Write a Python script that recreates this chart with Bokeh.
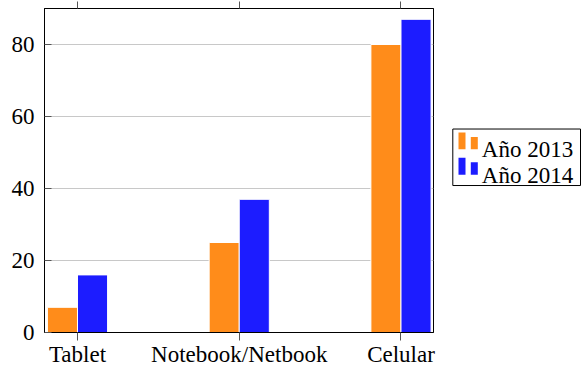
from bokeh.plotting import figure
from bokeh.models import Range1d, FixedTicker, LinearAxis
from bokeh.layouts import row
from bokeh.embed import file_html
from bokeh.resources import INLINE
from bokeh.core.properties import value

# ---- data ----
categories = ["Tablet", "Notebook/Netbook", "Celular"]
series_names = ["Año 2013", "Año 2014"]
values_2013 = [7, 25, 80]
values_2014 = [16, 37, 87]
y_ticks = [0, 20, 40, 60, 80]

FONT = "Liberation Serif"
FSIZE = "23px"
ORANGE = "#FF8C1A"
BLUE = "#1C1CFF"

xs = list(range(len(categories)))
bw = 0.186
off = 0.093

p = figure(width=443, height=371,
           x_range=Range1d(-0.204, 2.201), y_range=Range1d(0, 90),
           output_backend="svg", toolbar_location=None,
           min_border_left=44, min_border_right=10,
           min_border_top=8, min_border_bottom=39)

p.vbar(x=[x - off for x in xs], top=values_2013, width=bw, bottom=0,
       fill_color=ORANGE, line_color="white", line_width=1)
p.vbar(x=[x + off for x in xs], top=values_2014, width=bw, bottom=0,
       fill_color=BLUE, line_color="white", line_width=1)

xa = p.xaxis[0]
xa.ticker = FixedTicker(ticks=xs)
xa.major_label_overrides = {i: c for i, c in zip(xs, categories)}
xa.major_tick_out = 8
xa.major_tick_in = 0
xa.minor_tick_out = 0
xa.minor_tick_in = 0
xa.major_label_standoff = 1
xa.major_label_text_font = FONT
xa.major_label_text_font_size = FSIZE
xa.major_label_text_color = "black"
xa.axis_line_color = "black"
xa.major_tick_line_color = "#555555"

top_axis = LinearAxis(ticker=FixedTicker(ticks=xs),
                      major_label_overrides={i: "" for i in xs},
                      major_tick_out=7, major_tick_in=0,
                      minor_tick_out=0, minor_tick_in=0,
                      major_label_text_font_size="1px",
                      major_label_standoff=0,
                      axis_line_color="black",
                      major_tick_line_color="#555555")
p.add_layout(top_axis, "above")

ya = p.yaxis[0]
ya.ticker = FixedTicker(ticks=y_ticks)
ya.major_tick_in = 7
ya.major_tick_out = 0
ya.minor_tick_out = 0
ya.minor_tick_in = 0
ya.major_label_standoff = 10
ya.major_label_text_font = FONT
ya.major_label_text_font_size = FSIZE
ya.major_label_text_color = "black"
ya.axis_line_color = "black"
ya.major_tick_line_color = "#555555"

p.xgrid.grid_line_color = None
p.ygrid.ticker = FixedTicker(ticks=y_ticks)
p.ygrid.grid_line_color = "#C8C8C8"
p.ygrid.grid_line_width = 1

p.outline_line_color = "black"
p.outline_line_alpha = 1
p.outline_line_width = 1
p.background_fill_color = "white"
p.border_fill_color = "white"

# ---- legend panel ----
lg = figure(width=139, height=371,
            x_range=Range1d(0, 139), y_range=Range1d(371, 0),
            output_backend="svg", toolbar_location=None,
            x_axis_type=None, y_axis_type=None,
            min_border=0)
lg.grid.visible = False
lg.outline_line_color = None
lg.background_fill_color = "white"
lg.border_fill_color = "white"

lg.quad(left=[9.3], right=[137], top=[138], bottom=[202.7],
        fill_color=None, line_color="black", line_width=1)
colors = [ORANGE, BLUE]
row_step = 29
for k, c in enumerate(colors):
    dy = k * row_step
    lg.quad(left=[15, 27.3], right=[22, 34.3],
            top=[142 + dy, 147 + dy], bottom=[161.3 + dy, 161.3 + dy],
            fill_color=c, line_color=None)
lg.text(x=[38.3, 38.3], y=[162, 191.3], text=series_names,
        text_font=value(FONT), text_font_size=FSIZE,
        text_baseline="alphabetic", text_align="left", text_color="black")

layout = row(p, lg)
open("out.html", "w").write(file_html(layout, INLINE))
